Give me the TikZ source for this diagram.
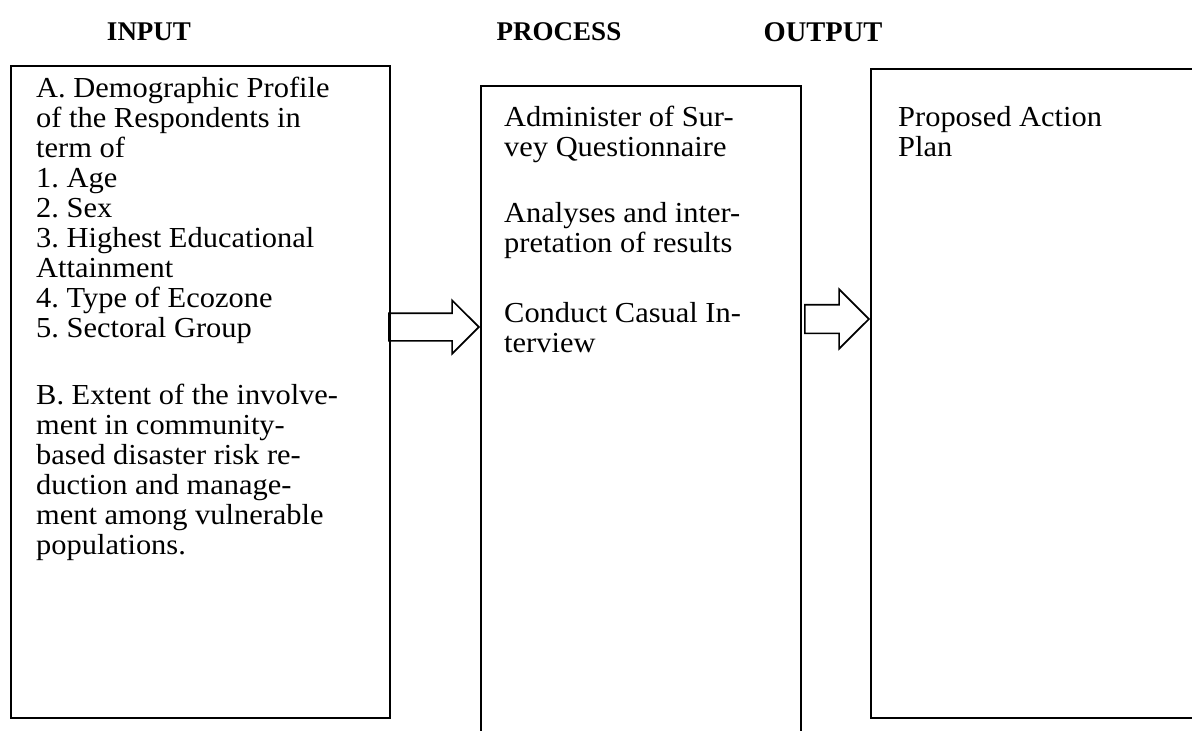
\documentclass[tikz,border=0pt]{standalone}
\usepackage{fontspec}
\setmainfont{Liberation Serif}
\newfontfamily\bodyfont{Liberation Serif}[FakeStretch=1.05]
\usetikzlibrary{shapes.arrows, positioning, calc}

\begin{document}
\begin{tikzpicture}[
    x=1pt, y=-1pt,
    frame/.style={draw, rectangle, line width=1.8pt, inner sep=0pt, anchor=north west},
    heading/.style={font=\fontsize{27}{32}\selectfont\bfseries, anchor=base, inner sep=0pt},
    body/.style={font=\bodyfont\fontsize{29}{30}\selectfont\frenchspacing, align=left, inner sep=0pt, anchor=north west},
    blockarrow/.style={single arrow, draw, line width=1.6pt, inner xsep=0pt, inner ysep=13pt, single arrow head extend=13pt, anchor=tip}
  ]
  \useasboundingbox (0,0) rectangle (1192,731);

  % the three frames
  \node[frame, minimum width=379pt, minimum height=652pt] (inbox) at (10,65) {};
  \node[frame, minimum width=320pt, minimum height=700pt] (procbox) at (480,85) {};
  \node[frame, minimum width=360pt, minimum height=649pt] (outbox) at (870,68) {};

  % headings
  \node[heading] (inlabel) at (149,40) {INPUT};
  \node[heading] (proclabel) at (559,40) {PROCESS};
  \node[heading, font=\fontsize{28.5}{32}\selectfont\bfseries] (outlabel) at (823,41) {OUTPUT};

  % frame contents
  \node[body, below right=12pt and 26pt of inbox.north west] (intext)
  {A. Demographic Profile\\
   of the Respondents in\\
   term of\\
   1. Age\\
   2. Sex\\
   3. Highest Educational\\
   Attainment\\
   4. Type of Ecozone\\
   5. Sectoral Group\\[37pt]
   B. Extent of the involve-\\
   ment in community-\\
   based disaster risk re-\\
   duction and manage-\\
   ment among vulnerable\\
   populations.};
  \node[body, below right=21pt and 24pt of procbox.north west] (proctext)
  {Administer of Sur-\\
   vey Questionnaire\\[36pt]
   Analyses and inter-\\
   pretation of results\\[40pt]
   Conduct Casual In-\\
   terview};
  \node[body, below right=38pt and 28pt of outbox.north west] (outtext)
  {Proposed Action\\
   Plan};

  % block arrows between frames
  \node[blockarrow, minimum height=90pt] (arr1) at (procbox.west |- 0,327) {};
  \node[blockarrow, minimum height=64pt, inner ysep=13.5pt, single arrow head extend=15.5pt] (arr2) at (outbox.west |- 0,319) {};
\end{tikzpicture}
\end{document}
